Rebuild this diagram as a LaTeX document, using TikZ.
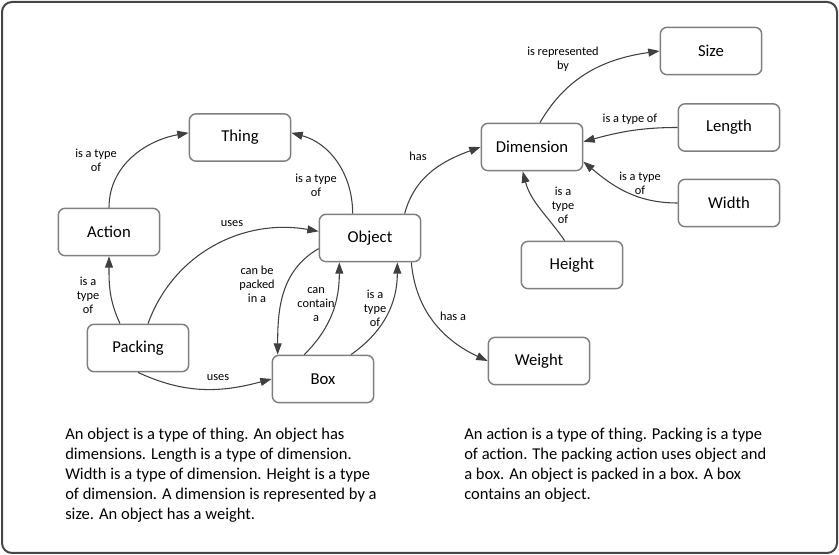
\documentclass[tikz,border=0pt]{standalone}
\usepackage{fontspec}
\setmainfont{Carlito}
\usetikzlibrary{arrows.meta}
\definecolor{boxline}{HTML}{7F7F7F}
\definecolor{linkgray}{HTML}{404040}
\definecolor{framegray}{HTML}{454545}

\begin{document}
\begin{tikzpicture}[x=0.75pt, y=0.75pt,
    concept/.style={draw=boxline, line width=1.1pt, rounded corners=5pt, fill=white,
        minimum width=76pt, minimum height=35.5pt, font=\fontsize{12.5}{15}\selectfont},
    link/.style={draw=linkgray, line width=0.8pt, -{Triangle[length=8.5pt,width=6pt]}},
    lbl/.style={font=\fontsize{9.25}{10.5}\selectfont, align=center, inner sep=0pt},
    para/.style={font=\fontsize{12.4}{15}\selectfont, align=left, anchor=north west, inner sep=0pt}]

    \useasboundingbox (0,0) rectangle (839,-555);
    \draw[draw=framegray, line width=1.5pt, rounded corners=7.5pt] (2,-2) rectangle (837,-553);

    % Define concepts
    \node[concept] (Thing) at (240,-137.5) {Thing};
    \node[concept] (Action) at (109,-232) {Action};
    \node[concept] (Object) at (370,-238) {Object};
    \node[concept] (Packing) at (138,-348) {Packing};
    \node[concept] (Box) at (323,-379) {Box};
    \node[concept] (Dimension) at (532,-147) {Dimension};
    \node[concept] (Size) at (711,-51) {Size};
    \node[concept] (Length) at (729,-127.5) {Length};
    \node[concept] (Width) at (729,-203) {Width};
    \node[concept] (Height) at (572,-265) {Height};
    \node[concept] (Weight) at (539,-361) {Weight};

    % Draw links with arrows
    \draw[link] (Action.north) to[out=90, in=190] ([yshift=3.5pt]Thing.west);
    \draw[link] ([xshift=-13pt]Object.north) to[out=90, in=-15] ([yshift=3.5pt]Thing.east);
    \draw[link] ([xshift=-13.5pt]Packing.north) to[out=115, in=-90] (Action.south);
    \draw[link] ([xshift=7.5pt]Packing.north) to[out=70, in=170] ([yshift=5pt]Object.west);
    \draw[link] (Packing.south) to[out=-25, in=195] (Box.west);
    \draw[link] ([yshift=-8pt]Object.west) to[out=210, in=90] ([xshift=-34pt]Box.north);
    \draw[link] ([xshift=-14pt]Box.north) to[out=45, in=-90] ([xshift=-23pt]Object.south);
    \draw[link] ([xshift=21pt]Box.north) to[out=35, in=-90] ([xshift=20.5pt]Object.south);
    \draw[link] ([xshift=26pt]Object.north) to[out=75, in=200] (Dimension.west);
    \draw[link] ([xshift=31pt]Object.south) to[out=-85, in=155] (Weight.west);
    \draw[link] ([xshift=6pt]Dimension.north) to[out=60, in=188] (Size.west);
    \draw[link] (Length.west) to[out=180, in=15] ([yshift=4pt]Dimension.east);
    \draw[link] (Width.west) to[out=180, in=-40] ([yshift=-11pt]Dimension.east);
    \draw[link] ([xshift=-5.5pt]Height.north) to[out=125, in=-75] ([xshift=-7pt]Dimension.south);

    % Link labels
    \node[lbl] (lActThing) at (96,-160) {is a type\\of};
    \node[lbl] (lObjThing) at (316,-185) {is a type\\of};
    \node[lbl] (lPackAct) at (88,-295) {is a\\type\\of};
    \node[lbl] (lPackObj) at (232,-224) {uses};
    \node[lbl] (lPackBox) at (218,-378) {uses};
    \node[lbl] (lObjBox) at (257,-284) {can be\\packed\\in a};
    \node[lbl] (lBoxObj) at (316,-305) {can\\contain\\a};
    \node[lbl] (lBoxType) at (375,-308) {is a\\type\\of};
    \node[lbl] (lObjDim) at (418,-156) {has};
    \node[lbl] (lObjWeight) at (453,-316) {has a};
    \node[lbl] (lDimSize) at (563,-59) {is represented\\by};
    \node[lbl] (lLenDim) at (630,-119) {is a type of};
    \node[lbl] (lWidDim) at (640,-183) {is a type\\of};
    \node[lbl] (lHeiDim) at (563,-205) {is a\\type\\of};

    % Notes
    \node[para] (noteLeft) at (65,-428) {An object is a type of thing. An object has\\
        dimensions. Length is a type of dimension.\\
        Width is a type of dimension. Height is a type\\
        of dimension. A dimension is represented by a\\
        size. An object has a weight.};
    \node[para] (noteRight) at (464,-428) {An action is a type of thing. Packing is a type\\
        of action. The packing action uses object and\\
        a box. An object is packed in a box. A box\\
        contains an object.};
\end{tikzpicture}
\end{document}
